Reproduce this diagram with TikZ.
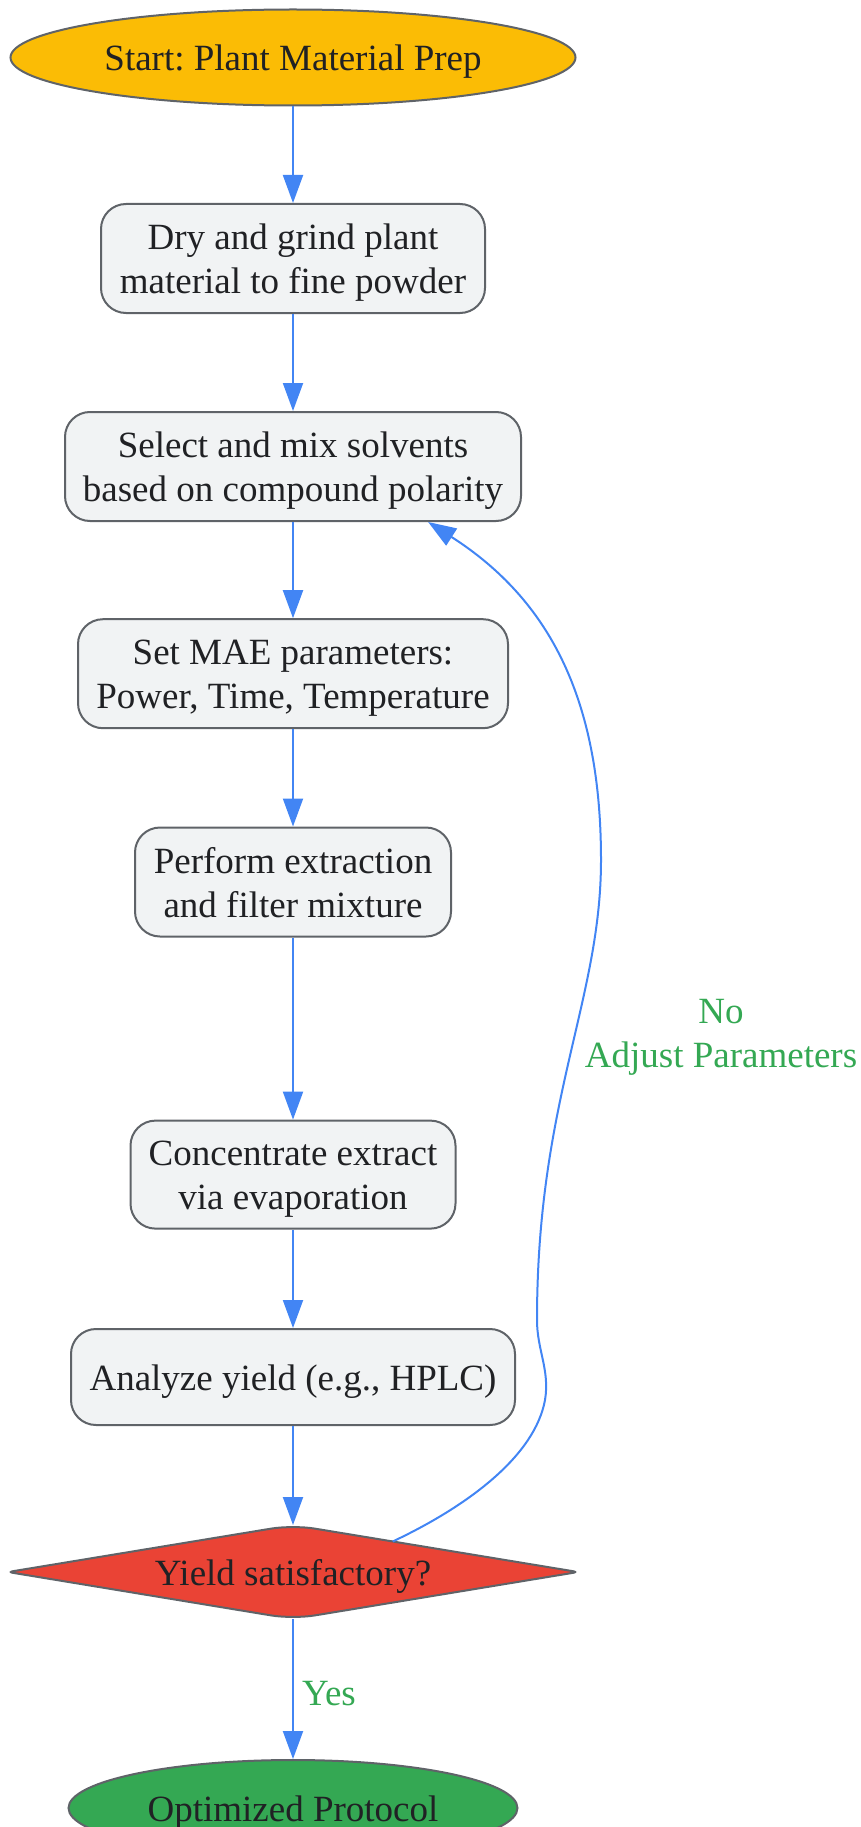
\documentclass[tikz,border=0pt]{standalone}
\usepackage{fontspec}
\setmainfont{Liberation Serif}
\usetikzlibrary{shapes.geometric,arrows.meta,calc}
\definecolor{stroke}{HTML}{5F6368}
\definecolor{boxfill}{HTML}{F1F3F4}
\definecolor{txt}{HTML}{202124}
\definecolor{arrowblue}{HTML}{4285F4}
\definecolor{gyellow}{HTML}{FBBC05}
\definecolor{gred}{HTML}{EA4335}
\definecolor{ggreen}{HTML}{34A853}
\newcommand\lst{\rule[-9pt]{0pt}{44pt}}
\frenchspacing
\begin{document}
\begin{tikzpicture}[x=1pt,y=-1pt,
  base/.style={draw=stroke,line width=2pt,text=txt,align=center,inner sep=0pt,
    font=\fontsize{37}{44}\selectfont},
  stepbox/.style={base,rectangle,rounded corners=25pt,fill=boxfill,minimum height=109pt},
  term/.style={base,ellipse,minimum width=565pt,minimum height=96pt},
  decision/.style={base,diamond,draw=none,minimum width=570pt,minimum height=94pt,aspect=6},
  outline/.style={draw=stroke,line width=2pt},
  flow/.style={draw=arrowblue,line width=2pt,-{Triangle[length=28pt,width=20pt]}},
  lbl/.style={text=ggreen,align=center,font=\fontsize{37}{44}\selectfont,inner sep=0pt}]
\useasboundingbox (0,0) rectangle (861,1827);
\node[term,fill=gyellow] (start) at (293,57.5) {\lst Start: Plant Material Prep};
\node[stepbox,minimum width=384pt] (dry) at (293,258.5) {\lst Dry and grind plant\\\lst material to fine powder};
\node[stepbox,minimum width=456pt] (sel) at (293,466.5) {\lst Select and mix solvents\\\lst based on compound polarity};
\node[stepbox,minimum width=430pt] (mae) at (293,673.7) {\lst Set MAE parameters:\\\lst Power, Time, Temperature};
\node[stepbox,minimum width=316pt] (perf) at (293,882) {\lst Perform extraction\\\lst and filter mixture};
\node[stepbox,minimum width=325pt,minimum height=108pt] (conc) at (293,1174.6) {\lst Concentrate extract\\\lst via evaporation};
\node[stepbox,minimum width=444pt,minimum height=96pt] (ana) at (293,1377) {\lst Analyze yield (e.g., HPLC)};
% decision diamond outline
\coordinate (dW) at (8,1572);
\coordinate (dN) at (293,1525);
\coordinate (dE) at (578,1572);
\coordinate (dS) at (293,1619);
\filldraw[outline,fill=gred] (dW) [rounded corners=22pt] -- (dN) [rounded corners=5pt] -- (dE) [rounded corners=22pt] -- (dS) [rounded corners=5pt] -- cycle;
\node[decision] (dia) at (293,1572) {\lst Yield satisfactory?};
\node[term,fill=ggreen,minimum width=449pt] (opt) at (293,1808) {\lst Optimized Protocol};

\draw[flow] (start) -- (dry);
\draw[flow] (dry) -- (sel);
\draw[flow] (sel) -- (mae);
\draw[flow] (mae) -- (perf);
\draw[flow] (perf) -- (conc);
\draw[flow] (conc) -- (ana);
\draw[flow] (ana) -- (dN);
\draw[flow] (dS) -- node[lbl,right=8pt,yshift=-3pt] (yes) {\lst Yes} (opt);

\coordinate (loopstart) at ($(dN)!0.35!(dE)$);
\coordinate (loopend) at ($(sel.south)!0.59!(sel.south east)$);
\draw[flow] (loopstart) .. controls (470,1505) and (535,1455) .. (545,1400)
  .. controls (550,1370) and (537,1350) .. (537,1320)
  .. controls (537,1100) and (601,1000) .. (601,860)
  .. controls (601,700) and (550,600) .. (loopend);
\node[lbl] (nolbl) at (721,1032) {\lst No\\\lst Adjust Parameters};
\end{tikzpicture}
\end{document}
